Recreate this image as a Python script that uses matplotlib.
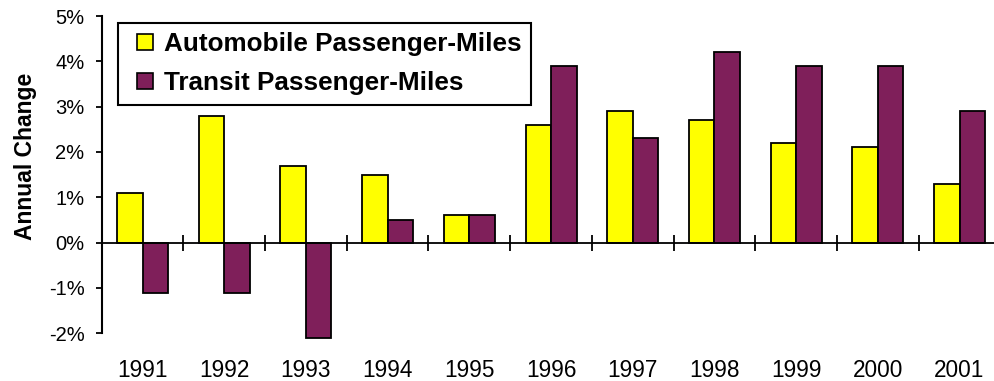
import numpy as np
import matplotlib
matplotlib.use("Agg")
import matplotlib.pyplot as plt
from matplotlib.lines import Line2D
from matplotlib.ticker import FixedLocator, PercentFormatter

years = ["1991", "1992", "1993", "1994", "1995", "1996",
         "1997", "1998", "1999", "2000", "2001"]
auto_change = [1.1, 2.8, 1.7, 1.5, 0.6, 2.6, 2.9, 2.7, 2.2, 2.1, 1.3]
transit_change = [-1.1, -1.1, -2.1, 0.5, 0.6, 3.9, 2.3, 4.2, 3.9, 3.9, 2.9]
series_labels = ["Automobile Passenger-Miles", "Transit Passenger-Miles"]
y_ticks = [-2, -1, 0, 1, 2, 3, 4, 5]

AUTO_COLOR = "#FFFF00"
TRANSIT_COLOR = "#7F1F5A"

plt.rcParams["font.family"] = ["Liberation Sans", "DejaVu Sans"]
plt.rcParams["axes.unicode_minus"] = False

W, H = 995, 381
fig = plt.figure(figsize=(W / 100, H / 100), dpi=100)
left_px, right_px, top_px, bottom_px = 101.7, 1000.4, 16.0, 333.3
ax = fig.add_axes([left_px / W, 1 - bottom_px / H,
                   (right_px - left_px) / W, (bottom_px - top_px) / H])

x = np.arange(len(years))
bw = 0.312
ax.bar(x - bw / 2, auto_change, width=bw, color=AUTO_COLOR,
       edgecolor="black", linewidth=1.3, zorder=2, clip_on=False)
ax.bar(x + bw / 2, transit_change, width=bw, color=TRANSIT_COLOR,
       edgecolor="black", linewidth=1.3, zorder=2, clip_on=False)

ax.set_xlim(-0.5, len(years) - 0.5)
ax.set_ylim(-2, 5)

# y axis
ax.set_yticks(y_ticks)
ax.yaxis.set_major_formatter(PercentFormatter(decimals=0))
ax.tick_params(axis="y", direction="out", length=4.3, width=1.3,
               labelsize=14.5, pad=8)
ax.spines["left"].set_linewidth(1.5)

# category axis drawn along the zero line
for s in ("top", "right"):
    ax.spines[s].set_visible(False)
ax.spines["bottom"].set_position(("data", 0))
ax.spines["bottom"].set_linewidth(1.3)
ax.spines["bottom"].set_zorder(3)
ax.set_xticks(x)
ax.set_xticklabels(years)
ax.xaxis.set_minor_locator(FixedLocator(np.arange(0.5, len(years) - 1, 1.0)))
ax.tick_params(axis="x", which="major", length=0, labelsize=16.3, pad=84)
ax.tick_params(axis="x", which="minor", direction="inout", length=12,
               width=1.3)

fig.text(26 / W, 1 - 156 / H, "Annual Change", rotation=90,
         ha="center", va="center", fontsize=16.5, fontweight="bold")

handles = [
    Line2D([], [], linestyle="none", marker="s", markersize=12.2,
           markerfacecolor=AUTO_COLOR, markeredgecolor="black",
           markeredgewidth=1.2),
    Line2D([], [], linestyle="none", marker="s", markersize=12.2,
           markerfacecolor=TRANSIT_COLOR, markeredgecolor="black",
           markeredgewidth=1.2),
]
leg = fig.legend(handles, series_labels, loc="upper left",
                 bbox_to_anchor=(118.3 / W, 1 - 22.7 / H),
                 bbox_transform=fig.transFigure, borderaxespad=0,
                 prop={"size": 18.8, "weight": "bold"},
                 handlelength=1.35, handletextpad=0.05, labelspacing=0.58,
                 borderpad=0.36, fancybox=False, framealpha=1,
                 edgecolor="black")
leg.get_frame().set_linewidth(1.5)

fig.savefig("out.png", dpi=100)
